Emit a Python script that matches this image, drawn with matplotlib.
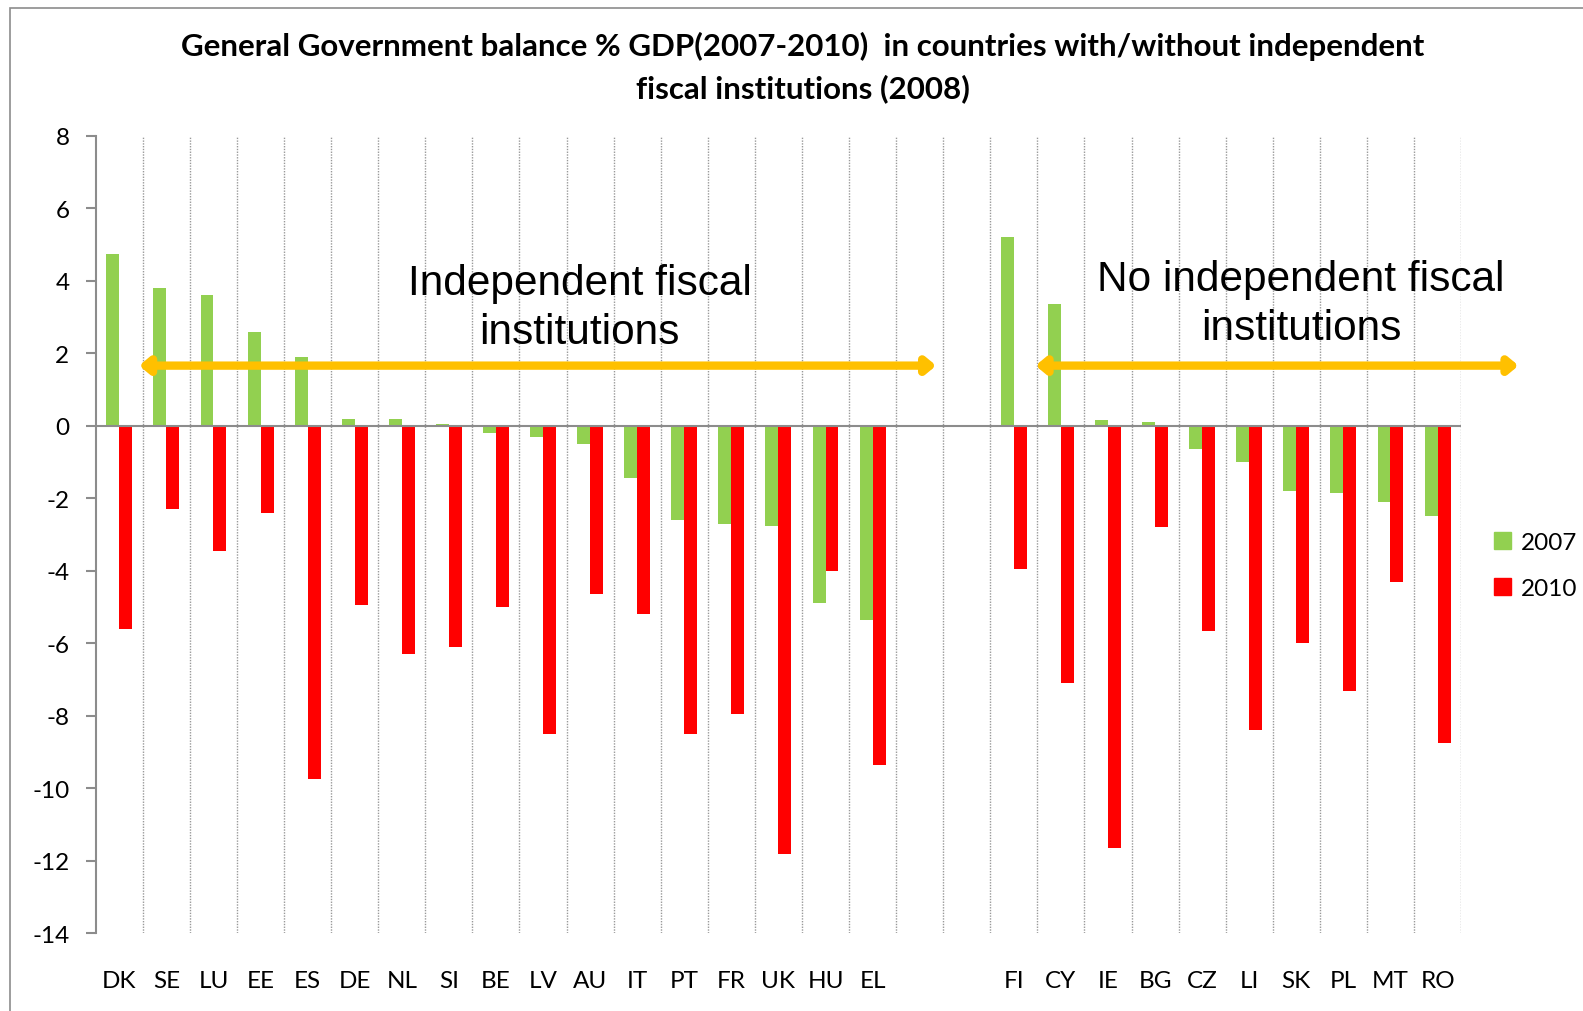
import numpy as np
import matplotlib
matplotlib.use("Agg")
import matplotlib.pyplot as plt
from matplotlib.patches import Patch, Rectangle

plt.rcParams["axes.unicode_minus"] = False

# General government balance, % of GDP
with_ifi = ["DK", "SE", "LU", "EE", "ES", "DE", "NL", "SI", "BE", "LV",
            "AU", "IT", "PT", "FR", "UK", "HU", "EL"]
with_ifi_2007 = [4.75, 3.8, 3.6, 2.6, 1.9, 0.2, 0.2, 0.05, -0.2, -0.3,
                 -0.5, -1.45, -2.6, -2.7, -2.75, -4.9, -5.35]
with_ifi_2010 = [-5.6, -2.3, -3.45, -2.4, -9.75, -4.95, -6.3, -6.1, -5.0, -8.5,
                 -4.65, -5.2, -8.5, -7.95, -11.8, -4.0, -9.35]

without_ifi = ["FI", "CY", "IE", "BG", "CZ", "LI", "SK", "PL", "MT", "RO"]
without_ifi_2007 = [5.2, 3.35, 0.15, 0.1, -0.65, -1.0, -1.8, -1.85, -2.1, -2.5]
without_ifi_2010 = [-3.95, -7.1, -11.65, -2.8, -5.65, -8.4, -6.0, -7.3, -4.3, -8.75]

green = "#92D050"
red = "#FF0000"
orange = "#FFC000"
axis_gray = "#8C8C8C"

gap = 2  # empty slots between the two groups
labels = with_ifi + [""] * gap + without_ifi
v2007 = with_ifi_2007 + [np.nan] * gap + without_ifi_2007
v2010 = with_ifi_2010 + [np.nan] * gap + without_ifi_2010
x = np.arange(len(labels))

fig = plt.figure(figsize=(15.83, 10.12), dpi=100)
ax = fig.add_axes([0.0605, 0.0766, 0.8625, 0.7883])

w = 0.275
ax.bar(x - w / 2, v2007, width=w, color=green, zorder=3)
ax.bar(x + w / 2, v2010, width=w, color=red, zorder=3)

ax.set_xlim(-0.5, len(labels) - 0.5)
ax.set_ylim(-14, 8)
ax.set_yticks(np.arange(-14, 9, 2))
ax.set_xticks(x)
ax.set_xticklabels(labels)
ax.set_xticks(list(x[:-1] + 0.5) + [len(labels) - 0.5], minor=True)

ax.grid(which="minor", axis="x", color="#999999", linestyle=(0, (1, 1)), linewidth=1.0)
ax.grid(which="major", visible=False)
ax.axhline(0, color=axis_gray, linewidth=1.5, zorder=4)

for s in ["top", "right", "bottom"]:
    ax.spines[s].set_visible(False)
ax.spines["left"].set_color(axis_gray)
ax.spines["left"].set_linewidth(1.5)

ax.tick_params(axis="y", length=7, width=1.5, color=axis_gray, pad=12,
               labelsize=17.5)
ax.tick_params(axis="x", which="both", length=0, pad=26, labelsize=17.5)
for lab in ax.get_xticklabels() + ax.get_yticklabels():
    lab.set_fontfamily("Lato")

fig.suptitle("General Government balance % GDP(2007-2010)  in countries with/without independent\nfiscal institutions (2008)",
             x=0.507, y=0.968, fontsize=22.5, fontweight="bold", family="Lato",
             linespacing=1.54)

# group annotations with double-headed arrows
ax.text(9.78, 3.25, "Independent fiscal\ninstitutions", ha="center", va="center",
        fontsize=30.5, family="Liberation Sans", linespacing=1.29, zorder=5)
ax.text(25.1, 3.36, "No independent fiscal\ninstitutions", ha="center", va="center",
        fontsize=30.5, family="Liberation Sans", linespacing=1.29, zorder=5)

arrow = dict(arrowstyle="<|-|>,head_length=0.3,head_width=0.25", color=orange,
             lw=6, shrinkA=0, shrinkB=0, mutation_scale=18)
ax.annotate("", xy=(0.42, 1.66), xytext=(17.35, 1.66), arrowprops=arrow,
            annotation_clip=False, zorder=5)
ax.annotate("", xy=(19.46, 1.66), xytext=(29.72, 1.66), arrowprops=arrow,
            annotation_clip=False, zorder=5)

handles = [Patch(color=green, label="2007"), Patch(color=red, label="2010")]
leg = fig.legend(handles=handles, loc="center left", bbox_to_anchor=(0.944, 0.440),
                 frameon=False, handlelength=0.7, handleheight=0.7,
                 handletextpad=0.38, labelspacing=1.05, borderpad=0,
                 borderaxespad=0, prop={"family": "Lato", "size": 17.5})

# chart area border
fig.patches.append(Rectangle((10 / 1583, -0.01), 1.2, 1 - 9 / 1012 + 0.01,
                             transform=fig.transFigure, fill=False,
                             edgecolor=axis_gray, linewidth=1.2))

fig.savefig("out.png", dpi=100)
